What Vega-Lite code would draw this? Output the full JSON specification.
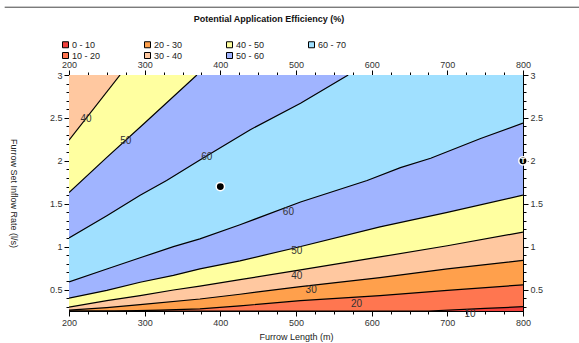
{
  "$schema": "https://vega.github.io/schema/vega-lite/v6.json",
  "width": 454,
  "height": 236,
  "autosize": {"type": "none"},
  "padding": {"left": 69, "top": 75, "right": 56, "bottom": 32},
  "background": "white",
  "config": {
    "view": {"fill": "#f0403c", "stroke": "black", "strokeWidth": 1},
    "font": "Liberation Sans",
    "axis": {"labelFont": "Liberation Sans", "titleFont": "Liberation Sans", "grid": false, "domainColor": "black", "tickColor": "black", "labelColor": "#333", "titleColor": "#222", "labelFontSize": 9, "titleFontSize": 9, "titleFontWeight": "normal", "labelOverlap": false, "labelFlush": false},
    "legend": {"labelFont": "Liberation Sans"}
  },
  "title": {"text": "Potential Application Efficiency (%)", "fontSize": 9, "fontWeight": "bold", "font": "Liberation Sans", "color": "#111", "anchor": "middle", "frame": "group", "dx": -27, "offset": -17},
  "datasets": {
    "contours": [
      {"c": "C10", "band": "10 - 20", "x": 200, "y": 0.25},
      {"c": "C10", "band": "10 - 20", "x": 675, "y": 0.25},
      {"c": "C10", "band": "10 - 20", "x": 750, "y": 0.28},
      {"c": "C10", "band": "10 - 20", "x": 800, "y": 0.30},
      {"c": "C20", "band": "20 - 30", "x": 200, "y": 0.25},
      {"c": "C20", "band": "20 - 30", "x": 260, "y": 0.25},
      {"c": "C20", "band": "20 - 30", "x": 320, "y": 0.26},
      {"c": "C20", "band": "20 - 30", "x": 373, "y": 0.275},
      {"c": "C20", "band": "20 - 30", "x": 426, "y": 0.31},
      {"c": "C20", "band": "20 - 30", "x": 506, "y": 0.37},
      {"c": "C20", "band": "20 - 30", "x": 611, "y": 0.43},
      {"c": "C20", "band": "20 - 30", "x": 700, "y": 0.49},
      {"c": "C20", "band": "20 - 30", "x": 800, "y": 0.555},
      {"c": "C30", "band": "30 - 40", "x": 200, "y": 0.26},
      {"c": "C30", "band": "30 - 40", "x": 250, "y": 0.29},
      {"c": "C30", "band": "30 - 40", "x": 294, "y": 0.325},
      {"c": "C30", "band": "30 - 40", "x": 373, "y": 0.39},
      {"c": "C30", "band": "30 - 40", "x": 426, "y": 0.445},
      {"c": "C30", "band": "30 - 40", "x": 506, "y": 0.535},
      {"c": "C30", "band": "30 - 40", "x": 611, "y": 0.64},
      {"c": "C30", "band": "30 - 40", "x": 700, "y": 0.74},
      {"c": "C30", "band": "30 - 40", "x": 800, "y": 0.84},
      {"c": "C40", "band": "40 - 50", "x": 200, "y": 0.295},
      {"c": "C40", "band": "40 - 50", "x": 250, "y": 0.37},
      {"c": "C40", "band": "40 - 50", "x": 294, "y": 0.43},
      {"c": "C40", "band": "40 - 50", "x": 338, "y": 0.495},
      {"c": "C40", "band": "40 - 50", "x": 373, "y": 0.54},
      {"c": "C40", "band": "40 - 50", "x": 426, "y": 0.615},
      {"c": "C40", "band": "40 - 50", "x": 506, "y": 0.73},
      {"c": "C40", "band": "40 - 50", "x": 611, "y": 0.88},
      {"c": "C40", "band": "40 - 50", "x": 700, "y": 1.01},
      {"c": "C40", "band": "40 - 50", "x": 800, "y": 1.17},
      {"c": "C50", "band": "50 - 60", "x": 200, "y": 0.40},
      {"c": "C50", "band": "50 - 60", "x": 250, "y": 0.49},
      {"c": "C50", "band": "50 - 60", "x": 294, "y": 0.585},
      {"c": "C50", "band": "50 - 60", "x": 338, "y": 0.665},
      {"c": "C50", "band": "50 - 60", "x": 373, "y": 0.74},
      {"c": "C50", "band": "50 - 60", "x": 426, "y": 0.835},
      {"c": "C50", "band": "50 - 60", "x": 501, "y": 0.99},
      {"c": "C50", "band": "50 - 60", "x": 611, "y": 1.23},
      {"c": "C50", "band": "50 - 60", "x": 700, "y": 1.40},
      {"c": "C50", "band": "50 - 60", "x": 800, "y": 1.60},
      {"c": "C60", "band": "60 - 70", "x": 200, "y": 0.59},
      {"c": "C60", "band": "60 - 70", "x": 250, "y": 0.74},
      {"c": "C60", "band": "60 - 70", "x": 294, "y": 0.87},
      {"c": "C60", "band": "60 - 70", "x": 338, "y": 1.0},
      {"c": "C60", "band": "60 - 70", "x": 373, "y": 1.09},
      {"c": "C60", "band": "60 - 70", "x": 426, "y": 1.255},
      {"c": "C60", "band": "60 - 70", "x": 506, "y": 1.52},
      {"c": "C60", "band": "60 - 70", "x": 594, "y": 1.77},
      {"c": "C60", "band": "60 - 70", "x": 638, "y": 1.92},
      {"c": "C60", "band": "60 - 70", "x": 678, "y": 2.03},
      {"c": "C60", "band": "60 - 70", "x": 744, "y": 2.26},
      {"c": "C60", "band": "60 - 70", "x": 800, "y": 2.44},
      {"c": "C60u", "band": "50 - 60", "x": 200, "y": 1.10},
      {"c": "C60u", "band": "50 - 60", "x": 250, "y": 1.36},
      {"c": "C60u", "band": "50 - 60", "x": 294, "y": 1.60},
      {"c": "C60u", "band": "50 - 60", "x": 329, "y": 1.77},
      {"c": "C60u", "band": "50 - 60", "x": 373, "y": 2.01},
      {"c": "C60u", "band": "50 - 60", "x": 439, "y": 2.36},
      {"c": "C60u", "band": "50 - 60", "x": 506, "y": 2.67},
      {"c": "C60u", "band": "50 - 60", "x": 569, "y": 3.0},
      {"c": "C50u", "band": "40 - 50", "x": 200, "y": 1.63},
      {"c": "C50u", "band": "40 - 50", "x": 250, "y": 2.04},
      {"c": "C50u", "band": "40 - 50", "x": 300, "y": 2.44},
      {"c": "C50u", "band": "40 - 50", "x": 369, "y": 3.0},
      {"c": "C40u", "band": "30 - 40", "x": 200, "y": 2.24},
      {"c": "C40u", "band": "30 - 40", "x": 267.5, "y": 3.0}
    ],
    "labels": [
      {"x": 222.5, "y": 2.49, "label": "40"},
      {"x": 275, "y": 2.23, "label": "50"},
      {"x": 382, "y": 2.04, "label": "60"},
      {"x": 490, "y": 1.40, "label": "60"},
      {"x": 501, "y": 0.95, "label": "50"},
      {"x": 501, "y": 0.66, "label": "40"},
      {"x": 520, "y": 0.49, "label": "30"},
      {"x": 580, "y": 0.33, "label": "20"},
      {"x": 730, "y": 0.215, "label": "10"}
    ],
    "points": [
      {"x": 400, "y": 1.7, "kind": "design"},
      {"x": 800, "y": 2.0, "kind": "T"}
    ],
    "frame": [
      {"x": 115, "x2": 880, "y": 3.79}
    ]
  },
  "layer": [
    {
      "data": {"name": "contours"},
      "encoding": {
        "x": {"field": "x", "type": "quantitative", "scale": {"domain": [200, 800], "nice": false, "zero": false},
          "axis": {"orient": "bottom", "values": [200,225,250,275,300,325,350,375,400,425,450,475,500,525,550,575,600,625,650,675,700,725,750,775,800], "format": "d", "labelExpr": "datum.value % 100 === 0 ? datum.label : ''", "tickSize": {"condition": {"test": "datum.value % 100 === 0", "value": 5}, "value": 3}, "labelPadding": 2, "title": "Furrow Length (m)", "titlePadding": 5}},
        "y": {"field": "y", "type": "quantitative", "stack": null, "scale": {"domain": [0.25, 3], "nice": false, "zero": false},
          "axis": {"orient": "left", "values": [0.3,0.4,0.5,0.6,0.7,0.8,0.9,1.0,1.1,1.2,1.3,1.4,1.5,1.6,1.7,1.8,1.9,2.0,2.1,2.2,2.3,2.4,2.5,2.6,2.7,2.8,2.9,3.0], "format": "~g", "labelExpr": "abs(datum.value*2 - round(datum.value*2)) < 0.001 ? datum.label : ''", "tickSize": {"condition": {"test": "abs(datum.value*2 - round(datum.value*2)) < 0.001", "value": 5}, "value": 3}, "labelPadding": 2, "title": "Furrow Set Inflow Rate (l/s)", "titleAngle": 90, "titlePadding": 41}},
        "y2": {"datum": 3},
        "color": {"field": "band", "type": "nominal",
          "scale": {"domain": ["0 - 10", "20 - 30", "40 - 50", "60 - 70", "10 - 20", "30 - 40", "50 - 60"], "range": ["#f0403c", "#ffa04c", "#ffffa0", "#a0e0ff", "#ff7650", "#ffc8a0", "#a0b4ff"]},
          "legend": {"title": null, "orient": "none", "legendX": -8, "legendY": -35, "direction": "horizontal", "columns": 4, "columnPadding": 41, "rowPadding": 0, "symbolType": "square", "symbolSize": 36, "symbolStrokeColor": "black", "symbolStrokeWidth": 1, "symbolOpacity": 1, "labelFontSize": 9, "labelColor": "#222", "labelOffset": 2, "padding": 0}}
      },
      "layer": [
        {"transform": [{"filter": "datum.c == 'C10'"}], "mark": {"type": "area", "clip": true, "opacity": 1}},
        {"transform": [{"filter": "datum.c == 'C20'"}], "mark": {"type": "area", "clip": true, "opacity": 1}},
        {"transform": [{"filter": "datum.c == 'C30'"}], "mark": {"type": "area", "clip": true, "opacity": 1}},
        {"transform": [{"filter": "datum.c == 'C40'"}], "mark": {"type": "area", "clip": true, "opacity": 1}},
        {"transform": [{"filter": "datum.c == 'C50'"}], "mark": {"type": "area", "clip": true, "opacity": 1}},
        {"transform": [{"filter": "datum.c == 'C60'"}], "mark": {"type": "area", "clip": true, "opacity": 1}},
        {"transform": [{"filter": "datum.c == 'C60u'"}], "mark": {"type": "area", "clip": true, "opacity": 1}},
        {"transform": [{"filter": "datum.c == 'C50u'"}], "mark": {"type": "area", "clip": true, "opacity": 1}},
        {"transform": [{"filter": "datum.c == 'C40u'"}], "mark": {"type": "area", "clip": true, "opacity": 1}}
      ]
    },
    {
      "data": {"name": "contours"},
      "mark": {"type": "line", "clip": true, "color": "black", "strokeWidth": 1.2},
      "encoding": {
        "x": {"field": "x", "type": "quantitative",
          "axis": {"orient": "top", "values": [200,225,250,275,300,325,350,375,400,425,450,475,500,525,550,575,600,625,650,675,700,725,750,775,800], "format": "d", "labelExpr": "datum.value % 100 === 0 ? datum.label : ''", "tickSize": {"condition": {"test": "datum.value % 100 === 0", "value": 5}, "value": 3}, "labelPadding": 1, "title": null}},
        "y": {"field": "y", "type": "quantitative",
          "axis": {"orient": "right", "values": [0.3,0.4,0.5,0.6,0.7,0.8,0.9,1.0,1.1,1.2,1.3,1.4,1.5,1.6,1.7,1.8,1.9,2.0,2.1,2.2,2.3,2.4,2.5,2.6,2.7,2.8,2.9,3.0], "format": "~g", "labelExpr": "abs(datum.value*2 - round(datum.value*2)) < 0.001 ? datum.label : ''", "tickSize": {"condition": {"test": "abs(datum.value*2 - round(datum.value*2)) < 0.001", "value": 5}, "value": 3}, "labelPadding": 2, "title": null}},
        "detail": {"field": "c"},
        "order": {"field": "x", "type": "quantitative"}
      }
    },
    {
      "data": {"name": "labels"},
      "mark": {"type": "text", "fontSize": 10, "color": "#333", "font": "Liberation Sans"},
      "encoding": {
        "x": {"field": "x", "type": "quantitative", "axis": null},
        "y": {"field": "y", "type": "quantitative", "axis": null},
        "text": {"field": "label"}
      }
    },
    {
      "data": {"name": "points"},
      "mark": {"type": "circle", "size": 70, "color": "black", "opacity": 1, "stroke": "white", "strokeWidth": 1.5},
      "encoding": {
        "x": {"field": "x", "type": "quantitative", "axis": null},
        "y": {"field": "y", "type": "quantitative", "axis": null}
      }
    },
    {
      "data": {"name": "points"},
      "transform": [{"filter": "datum.kind == 'T'"}],
      "mark": {"type": "text", "fontSize": 8, "fontWeight": "bold", "color": "white", "baseline": "middle", "align": "center"},
      "encoding": {
        "x": {"field": "x", "type": "quantitative", "axis": null},
        "y": {"field": "y", "type": "quantitative", "axis": null},
        "text": {"value": "T"}
      }
    },
    {
      "data": {"name": "frame"},
      "mark": {"type": "rule", "color": "#444", "strokeWidth": 1, "clip": false},
      "encoding": {
        "x": {"field": "x", "type": "quantitative", "axis": null},
        "x2": {"field": "x2"},
        "y": {"field": "y", "type": "quantitative", "axis": null}
      }
    }
  ],
  "resolve": {"axis": {"x": "independent", "y": "independent"}}
}
